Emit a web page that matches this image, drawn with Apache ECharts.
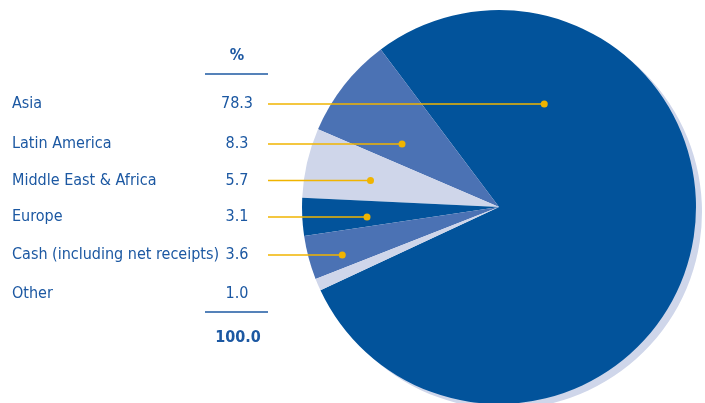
<!DOCTYPE html>
<html><head><meta charset="utf-8">
<script src="https://cdn.jsdelivr.net/npm/echarts@6/dist/echarts.min.js"></script>
<style>html,body{margin:0;padding:0;background:#fff}#c{width:705px;height:403px}</style>
</head><body><div id="c"></div>
<script>
const categories = ['Asia', 'Latin America', 'Middle East & Africa', 'Europe', 'Cash (including net receipts)', 'Other'];
const shares = [78.3, 8.3, 5.7, 3.1, 3.6, 1.0];
const headerLabel = '%';

const DARK = '#02539b', MID = '#4b72b4', LIGHT = '#cfd6ea';
const sliceColors = [DARK, MID, LIGHT, DARK, MID, LIGHT];
const CX = 499, CY = 207, R = 197, START = 205;
const ROW_Y = [104, 144, 180.5, 217, 255, 293.5];
const LINE_X0 = 268;
const TEXT = '#1c58a2', GOLD = '#f0b400';
const FONT = "'Liberation Sans Narrow','DejaVu Sans Condensed','Roboto Condensed',sans-serif";

const total = shares.reduce((a, b) => a + b, 0);
function sliceRange(i) {
  let cum = 0;
  for (let k = 0; k < i; k++) cum += shares[k];
  const a0 = START + cum / total * 360;
  return [a0, a0 + shares[i] / total * 360];
}
function dotX(i, y) {
  const [a0, a1] = sliceRange(i);
  let mn = Infinity, mx = -Infinity;
  const dy = CY - y;
  for (let x = CX - R; x <= CX + R; x += 0.5) {
    const dx = x - CX;
    if (dx * dx + dy * dy > R * R) continue;
    const a = Math.atan2(dy, dx) * 180 / Math.PI;
    const t = ((a - a0) % 360 + 360) % 360;
    if (t <= a1 - a0) { mn = Math.min(mn, x); mx = Math.max(mx, x); }
  }
  return (mn + mx) / 2;
}
const dots = shares.map((v, i) => [dotX(i, ROW_Y[i]), ROW_Y[i]]);

const chart = echarts.init(document.getElementById('c'), null, { renderer: 'canvas' });
chart.setOption({
  animation: false,
  series: [{
    type: 'pie',
    center: [CX, CY],
    radius: R,
    startAngle: START,
    clockwise: false,
    avoidLabelOverlap: false,
    silent: true,
    emphasis: { disabled: true },
    data: categories.map((n, i) => ({
      name: n,
      value: shares[i],
      itemStyle: i === 0
        ? { color: sliceColors[i], shadowColor: LIGHT, shadowOffsetX: 6, shadowOffsetY: 5, shadowBlur: 0 }
        : { color: sliceColors[i] }
    })),
    itemStyle: { borderWidth: 0 },
    label: {
      show: true,
      formatter: p => '{n|' + p.name + '}{v|' + p.value.toFixed(1) + '}',
      rich: {
        n: { width: 210, align: 'left', color: TEXT, fontSize: 16, fontFamily: FONT },
        v: { width: 30, align: 'center', color: TEXT, fontSize: 16, fontFamily: FONT }
      }
    },
    labelLine: { show: false },
    labelLayout: p => ({ x: 12, y: ROW_Y[p.dataIndex], align: 'left', verticalAlign: 'middle' })
  }],
  graphic: [
    { type: 'text', x: 237, y: 56, style: { text: headerLabel, fill: TEXT, font: 'bold 16px ' + FONT, align: 'center', verticalAlign: 'middle' } },
    { type: 'line', shape: { x1: 205, y1: 74, x2: 268, y2: 74 }, style: { stroke: TEXT, lineWidth: 1.5 } },
    { type: 'line', shape: { x1: 205, y1: 312, x2: 268, y2: 312 }, style: { stroke: TEXT, lineWidth: 1.5 } },
    { type: 'text', x: 238, y: 338, style: { text: total.toFixed(1), fill: TEXT, font: 'bold 16px ' + FONT, align: 'center', verticalAlign: 'middle' } }
  ].concat(dots.map(d => ({ type: 'line', shape: { x1: LINE_X0, y1: d[1], x2: d[0], y2: d[1] }, style: { stroke: GOLD, lineWidth: 1.5 }, z: 100 })))
   .concat(dots.map(d => ({ type: 'circle', shape: { cx: d[0], cy: d[1], r: 3.5 }, style: { fill: GOLD }, z: 101 })))
});
</script></body></html>
